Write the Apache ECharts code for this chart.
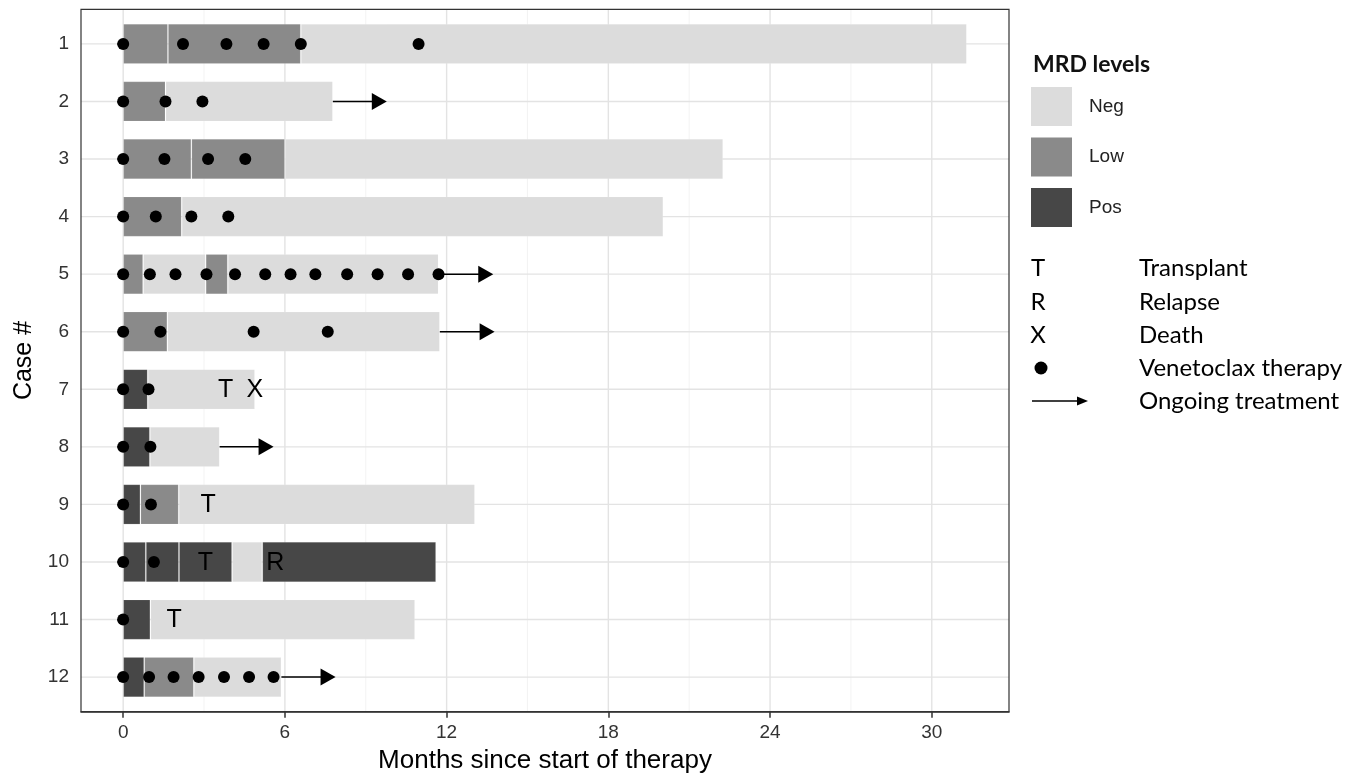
<!DOCTYPE html>
<html>
<head>
<meta charset="utf-8">
<script src="https://cdn.jsdelivr.net/npm/echarts@6/dist/echarts.min.js"></script>
<style>
  html, body { margin: 0; padding: 0; background: #fff; }
  #chart { width: 1348px; height: 775px; }
</style>
</head>
<body>
<div id="chart"></div>
<script>
// swimmer plot data
var cases = ['1', '2', '3', '4', '5', '6', '7', '8', '9', '10', '11', '12'];

// end month of each MRD segment, per case
var segEnd = [
    [1.66, 6.59, 31.3],
    [1.57, 7.78],
    [2.53, 6.0, 22.26],
    [2.17, 20.04],
    [0.74, 3.06, 3.88, 11.7],
    [1.64, 11.75],
    [0.91, 4.89],
    [0.99, 3.58],
    [0.64, 2.06, 13.05],
    [0.84, 2.07, 4.04, 5.16, 11.61],
    [1.01, 10.83],
    [0.78, 2.62, 5.87]
];
var segLevel = [
    ['Low', 'Low', 'Neg'],
    ['Low', 'Neg'],
    ['Low', 'Low', 'Neg'],
    ['Low', 'Neg'],
    ['Low', 'Neg', 'Low', 'Neg'],
    ['Low', 'Neg'],
    ['Pos', 'Neg'],
    ['Pos', 'Neg'],
    ['Pos', 'Low', 'Neg'],
    ['Pos', 'Pos', 'Pos', 'Neg', 'Pos'],
    ['Pos', 'Neg'],
    ['Pos', 'Low', 'Neg']
];

// venetoclax therapy time points (months)
var venDoses = [
    [0, 2.22, 3.83, 5.21, 6.59, 10.96],
    [0, 1.57, 2.94],
    [0, 1.53, 3.15, 4.53],
    [0, 1.21, 2.53, 3.9],
    [0, 0.99, 1.94, 3.09, 4.15, 5.27, 6.21, 7.13, 8.31, 9.44, 10.57, 11.7],
    [0, 1.38, 4.84, 7.59],
    [0, 0.94],
    [0, 1.01],
    [0, 1.03],
    [0, 1.14],
    [0],
    [0, 0.96, 1.87, 2.8, 3.74, 4.67, 5.58]
];

// ongoing treatment arrows
var ongoingCase = ['2', '5', '6', '8', '12'];
var ongoingTo = [9.78, 13.73, 13.78, 5.58, 7.88];

// events: T transplant, R relapse, X death
var eventCase = ['7', '7', '9', '10', '10', '11'];
var eventMonth = [3.8, 4.88, 3.15, 3.05, 5.64, 1.89];
var eventCode = ['T', 'X', 'T', 'T', 'R', 'T'];

var xTicks = [0, 6, 12, 18, 24, 30];
var xMinor = [3, 9, 15, 21, 27];

var levelColor = { Neg: '#dcdcdc', Low: '#8a8a8a', Pos: '#474747' };

function buildBars() {
    var series = [];
    for (var k = 0; k < 5; k++) {
        var data = cases.map(function (c, i) {
            if (segEnd[i][k] === undefined) return '-';
            var start = k ? segEnd[i][k - 1] : 0;
            return {
                value: +(segEnd[i][k] - start).toFixed(3),
                itemStyle: { color: levelColor[segLevel[i][k]] }
            };
        });
        series.push({
            name: 'seg' + k,
            type: 'bar',
            stack: 'mrd',
            barWidth: '70%',
            z: 2,
            itemStyle: { borderColor: 'rgba(255,255,255,0.12)', borderWidth: 1 },
            data: data
        });
    }
    return series;
}

// ggplot-like panel: grid lines reach 0.6 band past the first/last case
function bandExt(cs) {
    return cs.height / cases.length * 0.1;
}

var vLines = xTicks.map(function (v) { return [v, 1]; })
    .concat(xMinor.map(function (v) { return [v, 0]; }));
var hLines = cases.map(function (c, i) { return [i]; });

var dots = [];
venDoses.forEach(function (arr, i) {
    arr.forEach(function (m) { dots.push([m, cases[i]]); });
});

var arrows = ongoingCase.map(function (c, j) {
    var i = cases.indexOf(c);
    var ends = segEnd[i];
    return [ends[ends.length - 1], ongoingTo[j], i];
});

var events = eventMonth.map(function (m, j) {
    return [m, cases.indexOf(eventCase[j])];
});

var legendFont = 'Lato';
var legendItems = [
    { y: 268, label: 'Transplant', sym: 'T' },
    { y: 302, label: 'Relapse', sym: 'R' },
    { y: 335, label: 'Death', sym: 'X' },
    { y: 368, label: 'Venetoclax therapy' },
    { y: 401, label: 'Ongoing treatment' }
];

function legendGraphics() {
    var g = [];
    // panel border
    g.push({ type: 'rect', shape: { x: 81, y: 9.3, width: 928, height: 702.4 }, style: { fill: 'none', stroke: '#333', lineWidth: 1.2 }, z: 10 });
    g.push({ type: 'text', left: 1033, top: 53, style: { text: 'MRD levels', font: 'bold 23px Lato', fill: '#111' } });
    ['Neg', 'Low', 'Pos'].forEach(function (lv, k) {
        var y = 87 + k * 50.5;
        g.push({ type: 'rect', shape: { x: 1031, y: y, width: 41, height: 39 }, style: { fill: levelColor[lv] } });
        g.push({ type: 'text', x: 1089, y: y + 19.5, style: { text: lv, font: '19px "Liberation Sans"', fill: '#222', verticalAlign: 'middle' } });
    });
    legendItems.forEach(function (it) {
        if (it.sym) {
            g.push({ type: 'text', x: 1038, y: it.y, style: { text: it.sym, font: '24px ' + legendFont, fill: '#000', align: 'center', verticalAlign: 'middle' } });
        } else if (it.label === 'Venetoclax therapy') {
            g.push({ type: 'circle', shape: { cx: 1041, cy: it.y, r: 6.5 }, style: { fill: '#000' } });
        } else {
            g.push({ type: 'line', shape: { x1: 1032, y1: it.y, x2: 1080, y2: it.y }, style: { stroke: '#000', lineWidth: 1.5 } });
            g.push({ type: 'polygon', shape: { points: [[1077, it.y - 4.5], [1088, it.y], [1077, it.y + 4.5]] }, style: { fill: '#000' } });
        }
        g.push({ type: 'text', x: 1139, y: it.y, style: { text: it.label, font: '24px ' + legendFont, fill: '#000', verticalAlign: 'middle' } });
    });
    return g;
}

var option = {
    animation: false,
    backgroundColor: '#fff',
    grid: {
        left: 81, right: 339, top: 15.1, bottom: 69.1,
        containLabel: false,
        outerBoundsMode: 'none'
    },
    xAxis: {
        type: 'value',
        min: -1.565,
        max: 32.865,
        offset: 5.8,
        name: 'Months since start of therapy',
        nameLocation: 'middle',
        nameGap: 36,
        nameTextStyle: { fontFamily: 'Liberation Sans', fontSize: 26, color: '#000' },
        axisLine: { show: true, onZero: false, lineStyle: { color: '#333', width: 1.5 } },
        axisTick: { show: true, customValues: xTicks, length: 6, lineStyle: { color: '#333', width: 1.5 } },
        axisLabel: { customValues: xTicks, margin: 12, fontFamily: 'Liberation Sans', fontSize: 19, color: '#333' },
        splitLine: { show: false }
    },
    yAxis: {
        type: 'category',
        inverse: true,
        data: cases,
        name: 'Case #',
        nameLocation: 'middle',
        nameGap: 44,
        nameTextStyle: { fontFamily: 'Liberation Sans', fontSize: 25, color: '#000' },
        axisLine: { show: false },
        axisTick: { show: true, alignWithLabel: true, length: 6, lineStyle: { color: '#333', width: 1.5 } },
        axisLabel: { margin: 12, fontFamily: 'Liberation Sans', fontSize: 19, color: '#333' },
        splitLine: { show: false }
    },
    graphic: legendGraphics(),
    series: [{
        name: 'vgrid',
        type: 'custom',
        z: 0,
        silent: true,
        encode: { x: 0 },
        renderItem: function (params, api) {
            var cs = params.coordSys;
            var ext = bandExt(cs);
            var x = api.coord([api.value(0), 0])[0];
            var major = api.value(1) === 1;
            return {
                type: 'line',
                shape: { x1: x, y1: cs.y - ext, x2: x, y2: cs.y + cs.height + ext },
                style: { stroke: major ? '#e3e3e3' : '#f0f0f0', lineWidth: major ? 1.4 : 0.8 }
            };
        },
        data: vLines
    }, {
        name: 'hgrid',
        type: 'custom',
        z: 0,
        silent: true,
        encode: { y: 0 },
        renderItem: function (params, api) {
            var cs = params.coordSys;
            var y = api.coord([0, api.value(0)])[1];
            return {
                type: 'line',
                shape: { x1: cs.x, y1: y, x2: cs.x + cs.width, y2: y },
                style: { stroke: '#e3e3e3', lineWidth: 1.4 }
            };
        },
        data: hLines
    }].concat(buildBars()).concat([{
        name: 'Venetoclax therapy',
        type: 'scatter',
        symbol: 'circle',
        symbolSize: 12,
        z: 5,
        itemStyle: { color: '#000', opacity: 1 },
        data: dots
    }, {
        name: 'Ongoing treatment',
        type: 'custom',
        z: 6,
        encode: { x: [0, 1], y: 2 },
        renderItem: function (params, api) {
            var y = api.value(2);
            var p0 = api.coord([api.value(0), y]);
            var p1 = api.coord([api.value(1), y]);
            return {
                type: 'group',
                children: [{
                    type: 'line',
                    shape: { x1: p0[0], y1: p0[1], x2: p1[0] - 12, y2: p1[1] },
                    style: { stroke: '#000', lineWidth: 1.5 }
                }, {
                    type: 'polygon',
                    shape: { points: [[p1[0] - 15, p1[1] - 8.5], [p1[0], p1[1]], [p1[0] - 15, p1[1] + 8.5]] },
                    style: { fill: '#000' }
                }]
            };
        },
        data: arrows
    }, {
        name: 'Events',
        type: 'custom',
        z: 7,
        encode: { x: 0, y: 1 },
        renderItem: function (params, api) {
            var p = api.coord([api.value(0), api.value(1)]);
            return {
                type: 'text',
                x: p[0],
                y: p[1] + 1,
                style: {
                    text: eventCode[params.dataIndex],
                    font: '25px "Liberation Sans"',
                    fill: '#000',
                    align: 'center',
                    verticalAlign: 'middle'
                }
            };
        },
        data: events
    }])
};

var myChart = echarts.init(document.querySelector('#chart'));
myChart.setOption(option);
</script>
</body>
</html>
